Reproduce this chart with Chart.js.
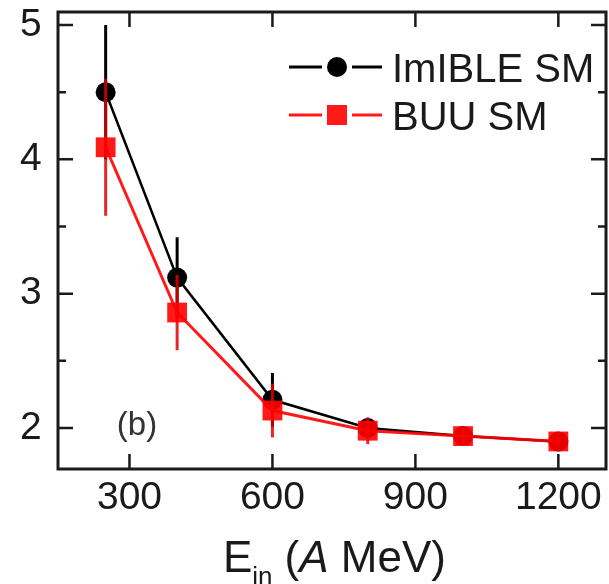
<!DOCTYPE html>
<html>
<head>
<meta charset="utf-8">
<script src="https://cdn.jsdelivr.net/npm/chart.js@4"></script>
<style>
  html, body { margin: 0; padding: 0; background: #fff; }
  #wrap { width: 609px; height: 584px; }
  canvas { display: block; }
</style>
</head>
<body>
<div id="wrap"><canvas id="chart" width="609" height="584"></canvas></div>
<script>
const energies = [250, 400, 600, 800, 1000, 1200];
const imibleSM = [4.50, 3.12, 2.21, 2.00, 1.94, 1.90];
const imibleErr = [0.50, 0.30, 0.20, 0.07, 0.05, 0.04];
const buuSM = [4.09, 2.86, 2.13, 1.98, 1.94, 1.90];
const buuErr = [0.51, 0.28, 0.20, 0.10, 0.06, 0.04];
const xTicks = [300, 600, 900, 1200];
const yTicks = [2, 3, 4, 5];
const yMinor = [2.5, 3.5, 4.5];
const seriesNames = ['ImIBLE SM', 'BUU SM'];
const panelLabel = '(b)';

const FONT = '"Liberation Sans", Arial, sans-serif';
const INK = '#1a1a1a';
const RED = 'rgba(255,0,0,0.9)';

const toPoints = (ys) => energies.map((e, i) => ({ x: e, y: ys[i] }));

// error bars, drawn just before each dataset so the red ones sit over the black marks
const errorBars = {
  id: 'errorBars',
  beforeDatasetDraw(chart, args) {
    const ds = chart.data.datasets[args.index];
    const x = chart.scales.x, y = chart.scales.y, ctx = chart.ctx;
    ctx.save();
    ctx.strokeStyle = ds.errColor;
    ctx.lineWidth = 3;
    ds.data.forEach((p, i) => {
      const px = x.getPixelForValue(p.x);
      ctx.beginPath();
      ctx.moveTo(px, y.getPixelForValue(p.y + ds.err[i]));
      ctx.lineTo(px, y.getPixelForValue(p.y - ds.err[i]));
      ctx.stroke();
    });
    ctx.restore();
  }
};

const decorations = {
  id: 'decorations',
  afterDraw(chart) {
    const { ctx, chartArea: a } = chart;
    const x = chart.scales.x, y = chart.scales.y;
    ctx.save();
    // frame
    ctx.strokeStyle = INK;
    ctx.lineWidth = 3;
    ctx.strokeRect(a.left, a.top, a.right - a.left, a.bottom - a.top);
    // inward ticks
    ctx.lineWidth = 2.5;
    ctx.beginPath();
    xTicks.forEach(v => {
      const px = x.getPixelForValue(v);
      ctx.moveTo(px, a.bottom); ctx.lineTo(px, a.bottom - 15);
      ctx.moveTo(px, a.top); ctx.lineTo(px, a.top + 15);
    });
    yTicks.forEach(v => {
      const py = y.getPixelForValue(v);
      ctx.moveTo(a.left, py); ctx.lineTo(a.left + 15, py);
      ctx.moveTo(a.right, py); ctx.lineTo(a.right - 15, py);
    });
    yMinor.forEach(v => {
      const py = y.getPixelForValue(v);
      ctx.moveTo(a.left, py); ctx.lineTo(a.left + 8, py);
      ctx.moveTo(a.right, py); ctx.lineTo(a.right - 8, py);
    });
    ctx.stroke();

    // legend
    const rows = [
      { y: 67, color: '#000', style: 'circle', text: seriesNames[0] },
      { y: 115, color: RED, style: 'rect', text: seriesNames[1] }
    ];
    rows.forEach(r => {
      ctx.strokeStyle = r.color;
      ctx.fillStyle = r.color;
      ctx.lineWidth = 3;
      ctx.beginPath();
      ctx.moveTo(289, r.y); ctx.lineTo(322, r.y);
      ctx.moveTo(352, r.y); ctx.lineTo(382, r.y);
      ctx.stroke();
      ctx.beginPath();
      if (r.style === 'circle') ctx.arc(337, r.y, 10, 0, Math.PI * 2);
      else ctx.rect(327, r.y - 10, 20, 20);
      ctx.fill();
      ctx.fillStyle = INK;
      ctx.font = '40px ' + FONT;
      ctx.textAlign = 'left';
      ctx.textBaseline = 'alphabetic';
      ctx.fillText(r.text, 392, r.y + 15);
    });

    // panel label
    ctx.fillStyle = '#333';
    ctx.font = '33px ' + FONT;
    ctx.textAlign = 'center';
    ctx.fillText(panelLabel, 137, 435);

    // x axis title: E_in (A MeV)
    ctx.fillStyle = INK;
    ctx.textAlign = 'left';
    ctx.font = '44px ' + FONT;
    let cx = 223;
    ctx.fillText('E', cx, 572);
    cx += ctx.measureText('E').width;
    ctx.font = '26px ' + FONT;
    ctx.fillText('in', cx, 585);
    cx += ctx.measureText('in').width + 12;
    ctx.font = '44px ' + FONT;
    ctx.fillText('(', cx, 572);
    cx += ctx.measureText('(').width;
    ctx.font = 'italic 44px ' + FONT;
    ctx.fillText('A', cx, 572);
    cx += ctx.measureText('A').width;
    ctx.font = '44px ' + FONT;
    ctx.fillText(' MeV)', cx, 572);
    ctx.restore();
  }
};

new Chart(document.getElementById('chart'), {
  type: 'line',
  data: {
    datasets: [
      {
        label: seriesNames[1],
        data: toPoints(buuSM),
        err: buuErr,
        errColor: 'rgba(225,0,0,0.85)',
        borderColor: RED,
        backgroundColor: RED,
        borderWidth: 3,
        pointStyle: 'rect',
        pointRadius: 14,
        pointBorderWidth: 0,
        tension: 0
      },
      {
        label: seriesNames[0],
        data: toPoints(imibleSM),
        err: imibleErr,
        errColor: '#000',
        borderColor: '#000',
        backgroundColor: '#000',
        borderWidth: 2.5,
        pointStyle: 'circle',
        pointRadius: 10,
        pointBorderWidth: 0,
        tension: 0
      }
    ]
  },
  options: {
    responsive: false,
    animation: false,
    layout: { autoPadding: false, padding: { top: 12, right: 3, left: 20, bottom: 0 } },
    plugins: { legend: { display: false }, tooltip: { enabled: false } },
    scales: {
      x: {
        type: 'linear',
        min: 150,
        max: 1300,
        grid: { display: false, drawTicks: false },
        border: { display: false },
        afterBuildTicks: s => { s.ticks = xTicks.map(v => ({ value: v })); },
        afterFit: s => { s.height = 115; s.paddingLeft = 0; s.paddingRight = 0; },
        ticks: {
          color: INK, padding: 6, maxRotation: 0,
          font: { size: 39, family: FONT },
          callback: v => String(v)
        }
      },
      y: {
        min: 1.695,
        max: 5.097,
        grid: { display: false, drawTicks: false },
        border: { display: false },
        afterBuildTicks: s => { s.ticks = yTicks.map(v => ({ value: v })); },
        afterFit: s => { s.width = 38; s.paddingTop = 0; s.paddingBottom = 0; },
        ticks: { color: INK, padding: 0, crossAlign: 'far', font: { size: 39, family: FONT } }
      }
    }
  },
  plugins: [errorBars, decorations]
});
</script>
</body>
</html>
